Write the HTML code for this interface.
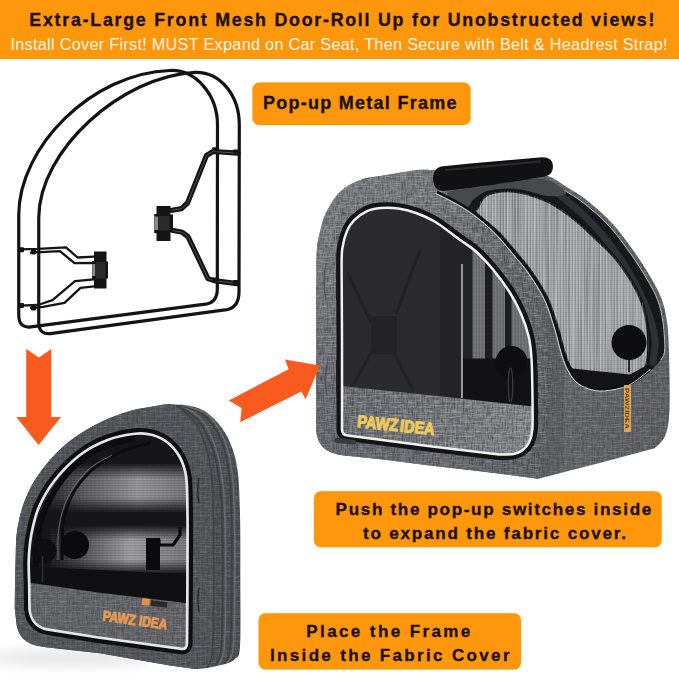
<!DOCTYPE html>
<html>
<head>
<meta charset="utf-8">
<title>Pop-up Metal Frame</title>
<style>
html,body{margin:0;padding:0;background:#fff;}
body{width:679px;height:679px;overflow:hidden;position:relative;font-family:"Liberation Sans",sans-serif;}
svg{position:absolute;left:0;top:0;display:block;}
text{font-family:"Liberation Sans",sans-serif;}
</style>
</head>
<body>
<svg width="679" height="679" viewBox="0 0 679 679">
<defs>
  <pattern id="fabTex" width="5" height="5" patternUnits="userSpaceOnUse">
    <rect x="0" y="0" width="1" height="5" fill="#fff" opacity=".10"/>
    <rect x="2" y="0" width="1" height="5" fill="#000" opacity=".10"/>
    <rect x="0" y="1" width="5" height="1" fill="#fff" opacity=".09"/>
    <rect x="0" y="3" width="5" height="1" fill="#000" opacity=".10"/>
    <rect x="3" y="2" width="2" height="2" fill="#000" opacity=".08"/>
  </pattern>
  <pattern id="vlines" width="3" height="4" patternUnits="userSpaceOnUse">
    <rect x="0" y="0" width="1.2" height="4" fill="#fff" opacity=".16"/>
    <rect x="1.8" y="0" width="1" height="4" fill="#000" opacity=".13"/>
    <rect x="0" y="0" width="3" height="1" fill="#000" opacity=".06"/>
  </pattern>
  <linearGradient id="fabFront" x1="316" y1="0" x2="552" y2="0" gradientUnits="userSpaceOnUse">
    <stop offset="0" stop-color="#7f8084"/><stop offset=".5" stop-color="#797a7e"/><stop offset=".8" stop-color="#6d6e73"/><stop offset="1" stop-color="#65666a"/>
  </linearGradient>
  <linearGradient id="fabSide" x1="540" y1="0" x2="670" y2="0" gradientUnits="userSpaceOnUse">
    <stop offset="0" stop-color="#66676b"/><stop offset="1" stop-color="#5e5f63"/>
  </linearGradient>
  <filter id="noise" x="0" y="0" width="100%" height="100%" color-interpolation-filters="sRGB">
    <feTurbulence type="fractalNoise" baseFrequency="0.9 0.12" numOctaves="2" seed="7" result="v"/>
    <feColorMatrix in="v" type="matrix" values="0 0 0 0 0  0 0 0 0 0  0 0 0 0 0  0 2.4 0 0 -0.95" result="vd"/>
    <feTurbulence type="fractalNoise" baseFrequency="0.12 0.9" numOctaves="2" seed="3" result="hh"/>
    <feColorMatrix in="hh" type="matrix" values="0 0 0 0 1  0 0 0 0 1  0 0 0 0 1  0 2.0 0 0 -0.9" result="hl"/>
    <feMerge><feMergeNode in="vd"/><feMergeNode in="hl"/></feMerge>
  </filter>
  <filter id="blur6" x="-20%" y="-200%" width="140%" height="500%"><feGaussianBlur stdDeviation="6"/></filter>
  <pattern id="hlines" width="4" height="2.5" patternUnits="userSpaceOnUse">
    <rect x="0" y="0" width="4" height="1" fill="#000" opacity=".18"/>
    <rect x="0" y="1.3" width="2" height="1" fill="#fff" opacity=".08"/>
  </pattern>
  <linearGradient id="bandG" x1="40" y1="0" x2="190" y2="0" gradientUnits="userSpaceOnUse">
    <stop offset="0" stop-color="#1c1c1e"/><stop offset=".3" stop-color="#606062"/><stop offset=".65" stop-color="#9a9a9c"/><stop offset="1" stop-color="#77777a"/>
  </linearGradient>
  <linearGradient id="bandG2" x1="55" y1="0" x2="190" y2="0" gradientUnits="userSpaceOnUse">
    <stop offset="0" stop-color="#242426"/><stop offset=".3" stop-color="#6a6a6c"/><stop offset=".55" stop-color="#a2a2a4"/><stop offset="1" stop-color="#7a7a7c"/>
  </linearGradient>
  <linearGradient id="fadeTop" x1="0" y1="455" x2="0" y2="469" gradientUnits="userSpaceOnUse">
    <stop offset="0" stop-color="#161618" stop-opacity="1"/><stop offset="1" stop-color="#161618" stop-opacity="0"/>
  </linearGradient>
  <linearGradient id="fadeBot" x1="0" y1="496" x2="0" y2="508" gradientUnits="userSpaceOnUse">
    <stop offset="0" stop-color="#161618" stop-opacity="0"/><stop offset="1" stop-color="#161618" stop-opacity="1"/>
  </linearGradient>
  <linearGradient id="fadeTop2" x1="0" y1="520" x2="0" y2="532" gradientUnits="userSpaceOnUse">
    <stop offset="0" stop-color="#161618" stop-opacity="1"/><stop offset="1" stop-color="#161618" stop-opacity="0"/>
  </linearGradient>
  <filter id="vnoise" x="0" y="0" width="100%" height="100%" color-interpolation-filters="sRGB">
    <feTurbulence type="fractalNoise" baseFrequency="0.7 0.006" numOctaves="2" seed="5" result="v"/>
    <feColorMatrix in="v" type="matrix" values="0 0 0 0 0  0 0 0 0 0  0 0 0 0 0  0 2.6 0 0 -1.0" result="vd"/>
    <feTurbulence type="fractalNoise" baseFrequency="0.65 0.008" numOctaves="2" seed="9" result="w"/>
    <feColorMatrix in="w" type="matrix" values="0 0 0 0 1  0 0 0 0 1  0 0 0 0 1  0 2.6 0 0 -1.05" result="wl"/>
    <feMerge><feMergeNode in="vd"/><feMergeNode in="wl"/></feMerge>
  </filter>
  <linearGradient id="panelG" x1="345" y1="0" x2="530" y2="0" gradientUnits="userSpaceOnUse">
    <stop offset="0" stop-color="#6b6e74"/><stop offset=".45" stop-color="#76787d"/><stop offset="1" stop-color="#87888c"/>
  </linearGradient>
  <linearGradient id="frontShade" x1="500" y1="250" x2="330" y2="470" gradientUnits="userSpaceOnUse">
    <stop offset="0" stop-color="#1c2230" stop-opacity="0"/><stop offset=".45" stop-color="#1c2230" stop-opacity=".04"/><stop offset="1" stop-color="#1c2230" stop-opacity=".24"/>
  </linearGradient>
</defs>
<!-- BANNER -->
<rect id="banner" x="0" y="0" width="679" height="59" fill="#ff970c"/>
<text id="t1" x="29.3" y="26" font-size="17.8" font-weight="bold" fill="#1c1108" stroke="#1c1108" stroke-width=".35" textLength="625" lengthAdjust="spacing">Extra-Large Front Mesh Door-Roll Up for Unobstructed views!</text>
<text id="t2" x="10.5" y="50.2" font-size="16.3" fill="#fff6e6" textLength="657" lengthAdjust="spacing">Install Cover First! MUST Expand on Car Seat, Then Secure with Belt &amp; Headrest Strap!</text>

<!-- LABELS -->
<g id="labels">
<rect x="252.5" y="82.5" width="218" height="42.5" rx="6.8" stroke="#ffd9a0" stroke-width="0.8" paint-order="stroke" fill="#ff970c"/>
<text x="263" y="109.1" font-size="18" font-weight="bold" fill="#1c1108" stroke="#1c1108" stroke-width=".35" textLength="193.5" lengthAdjust="spacing">Pop-up Metal Frame</text>

<rect x="314" y="491.2" width="347.7" height="56" rx="6.8" stroke="#ffd9a0" stroke-width="0.8" paint-order="stroke" fill="#ff970c"/>
<text x="335.6" y="514.7" font-size="17.1" font-weight="bold" fill="#1c1108" stroke="#1c1108" stroke-width=".35" textLength="315.7" lengthAdjust="spacing">Push the pop-up switches inside</text>
<text x="363" y="538.5" font-size="17.1" font-weight="bold" fill="#1c1108" stroke="#1c1108" stroke-width=".35" textLength="263" lengthAdjust="spacing">to expand the fabric cover.</text>

<rect x="258.6" y="613.3" width="262.4" height="56.1" rx="6.8" stroke="#ffd9a0" stroke-width="0.8" paint-order="stroke" fill="#ff970c"/>
<text x="306.3" y="636.7" font-size="17" font-weight="bold" fill="#1c1108" stroke="#1c1108" stroke-width=".35" textLength="164" lengthAdjust="spacing">Place the Frame</text>
<text x="270" y="660.5" font-size="17" font-weight="bold" fill="#1c1108" stroke="#1c1108" stroke-width=".35" textLength="239.5" lengthAdjust="spacing">Inside the Fabric Cover</text>
</g>

<!--FRAME-->
<g id="frame" fill="none" stroke="#141414" stroke-linecap="round" stroke-linejoin="round">
<path d="M18.75 215 C18.75 147 92 73 170 70.5 C196 69.5 217.5 95 217.5 125 L217.3 289 Q217.3 303.6 203.5 304.4 L31 326.9 Q18.75 328.5 18.75 315 Z" stroke-width="3.2"/>
<path d="M238.00 153.20 L213.00 151.50 L206.50 155.50 L187.50 203.00 L181.50 208.60 L172.00 210.30" stroke-width="5.2"/>
<path d="M238.00 153.20 L213.00 151.50 L206.50 155.50 L187.50 203.00 L181.50 208.60 L172.00 210.30" stroke-width="0.7" stroke="#6a6a6a"/>
<path d="M172.00 230.30 L182.30 232.30 L188.00 236.60 L208.00 278.60 L214.00 280.60 L237.00 283.60" stroke-width="5.2"/>
<path d="M172.00 230.30 L182.30 232.30 L188.00 236.60 L208.00 278.60 L214.00 280.60 L237.00 283.60" stroke-width="0.7" stroke="#6a6a6a"/>
<path d="M20.00 249.30 L38.00 248.80 L66.00 247.40 L77.50 257.50 L94.00 256.60" stroke-width="2.3"/>
<path d="M31.00 252.60 L60.00 251.20 L74.50 263.20 L94.00 263.00" stroke-width="2.3"/>
<path d="M20.00 305.60 L38.00 305.00 L52.50 300.20 L75.00 281.20 L94.00 279.40" stroke-width="2.3"/>
<path d="M31.00 308.00 L43.00 306.80 L64.50 302.80 L80.50 287.80 L94.00 286.40" stroke-width="2.3"/>
<path d="M38.75 218 C38.75 150 122 76 195 72.3 C220 71.5 239.3 95 239.3 125 L239 292 Q239 309.3 223 310.2 L52 333.4 Q38.75 335.5 38.75 322.5 Z" stroke-width="3.2"/>
</g>
<g fill="#141414">
<rect x="19.0" y="247.2" width="5" height="5" rx="1"/>
<rect x="31.0" y="249.6" width="5" height="5" rx="1"/>
<rect x="19.0" y="303.0" width="5" height="5" rx="1"/>
<rect x="31.0" y="305.6" width="5" height="5" rx="1"/>
<rect x="212" y="147.3" width="7" height="4" rx="1"/><rect x="233" y="149.6" width="7" height="4" rx="1"/>
<rect x="212" y="277.6" width="7" height="4" rx="1"/><rect x="233" y="280" width="7" height="4" rx="1"/>
<path d="M156.5 206 h14 v8.5 h2.5 v17 h-2.5 v9.5 h-14 v-8 h-2.3 v-19 h2.3 z"/>
<rect x="154.4" y="216.5" width="3.6" height="13.5" fill="#8a8a8a"/>
<rect x="158.5" y="216" width="11" height="14.5" fill="#2b2b2b"/>
<path d="M94 251.5 h12.5 v10 h1.5 v17 h-1.5 v10 h-12.5 v-9.5 h-2 v-18 h2 z"/>
<rect x="92.2" y="264" width="3" height="12" fill="#8a8a8a"/>
<rect x="96" y="262" width="9.5" height="16.5" fill="#2b2b2b"/>
</g>
<!--/FRAME-->
<!--BIG-->
<g id="bigcarrier">
<path d="M316.20 400.00 C316.20 388.33 316.17 350.83 316.20 330.00 C316.23 309.17 316.27 288.67 316.40 275.00 C316.53 261.33 316.32 255.50 317.00 248.00 C317.68 240.50 319.00 235.83 320.50 230.00 C322.00 224.17 322.75 219.33 326.00 213.00 C329.25 206.67 334.42 197.45 340.00 192.00 C345.58 186.55 352.72 182.97 359.50 180.30 C366.28 177.63 368.62 177.67 380.70 176.00 C392.78 174.33 417.12 172.05 432.00 170.30 C446.88 168.55 457.00 166.38 470.00 165.50 C483.00 164.62 497.00 163.25 510.00 165.00 C523.00 166.75 538.83 172.50 548.00 176.00 C557.17 179.50 558.62 182.03 565.00 186.00 C571.38 189.97 578.37 193.50 586.30 199.80 C594.23 206.10 604.42 214.83 612.60 223.80 C620.78 232.77 629.00 244.57 635.40 253.60 C641.80 262.63 646.63 270.43 651.00 278.00 C655.37 285.57 658.93 291.67 661.60 299.00 C664.27 306.33 665.77 313.03 667.00 322.00 C668.23 330.97 668.60 337.97 669.00 352.80 C669.40 367.63 670.07 397.13 669.40 411.00 C668.73 424.87 667.47 429.78 665.00 436.00 C662.53 442.22 656.33 446.25 654.60 448.30 L601.4 462.6 L538 478.7 L480 471.2 L430 465.4 L380.7 459.2 L347 455.8 C330 454 318 449 316.3 431 Z" fill="url(#fabSide)"/>
<path d="M316.20 400.00 C316.20 388.33 316.17 350.83 316.20 330.00 C316.23 309.17 316.27 288.67 316.40 275.00 C316.53 261.33 316.32 255.50 317.00 248.00 C317.68 240.50 319.00 235.83 320.50 230.00 C322.00 224.17 322.75 219.33 326.00 213.00 C329.25 206.67 334.42 197.45 340.00 192.00 C345.58 186.55 352.72 182.97 359.50 180.30 C366.28 177.63 368.62 177.67 380.70 176.00 C392.78 174.33 420.62 167.30 432.00 170.30 C443.38 173.30 441.88 186.83 449.00 194.00 C456.12 201.17 466.73 206.90 474.70 213.30 C482.67 219.70 489.43 224.95 496.80 232.40 C504.17 239.85 513.53 251.65 518.90 258.00 C524.27 264.35 525.32 265.33 529.00 270.50 C532.68 275.67 538.05 284.08 541.00 289.00 C543.95 293.92 545.03 296.33 546.70 300.00 C548.37 303.67 549.78 306.00 551.00 311.00 C552.22 316.00 553.67 321.83 554.00 330.00 C554.33 338.17 553.67 348.33 553.00 360.00 C552.33 371.67 551.17 386.67 550.00 400.00 C548.83 413.33 546.67 433.33 546.00 440.00 L538 478.7 L480 471.2 L430 465.4 L380.7 459.2 L347 455.8 C330 454 318 449 316.3 431 Z" fill="url(#fabFront)"/>
<path d="M316.20 400.00 C316.20 388.33 316.17 350.83 316.20 330.00 C316.23 309.17 316.27 288.67 316.40 275.00 C316.53 261.33 316.32 255.50 317.00 248.00 C317.68 240.50 319.00 235.83 320.50 230.00 C322.00 224.17 322.75 219.33 326.00 213.00 C329.25 206.67 334.42 197.45 340.00 192.00 C345.58 186.55 352.72 182.97 359.50 180.30 C366.28 177.63 368.62 177.67 380.70 176.00 C392.78 174.33 417.12 172.05 432.00 170.30 C446.88 168.55 457.00 166.38 470.00 165.50 C483.00 164.62 497.00 163.25 510.00 165.00 C523.00 166.75 538.83 172.50 548.00 176.00 C557.17 179.50 558.62 182.03 565.00 186.00 C571.38 189.97 578.37 193.50 586.30 199.80 C594.23 206.10 604.42 214.83 612.60 223.80 C620.78 232.77 629.00 244.57 635.40 253.60 C641.80 262.63 646.63 270.43 651.00 278.00 C655.37 285.57 658.93 291.67 661.60 299.00 C664.27 306.33 665.77 313.03 667.00 322.00 C668.23 330.97 668.60 337.97 669.00 352.80 C669.40 367.63 670.07 397.13 669.40 411.00 C668.73 424.87 667.47 429.78 665.00 436.00 C662.53 442.22 656.33 446.25 654.60 448.30 L601.4 462.6 L538 478.7 L480 471.2 L430 465.4 L380.7 459.2 L347 455.8 C330 454 318 449 316.3 431 Z" fill="url(#fabTex)" opacity=".4"/>
<clipPath id="clipSil"><path d="M316.20 400.00 C316.20 388.33 316.17 350.83 316.20 330.00 C316.23 309.17 316.27 288.67 316.40 275.00 C316.53 261.33 316.32 255.50 317.00 248.00 C317.68 240.50 319.00 235.83 320.50 230.00 C322.00 224.17 322.75 219.33 326.00 213.00 C329.25 206.67 334.42 197.45 340.00 192.00 C345.58 186.55 352.72 182.97 359.50 180.30 C366.28 177.63 368.62 177.67 380.70 176.00 C392.78 174.33 417.12 172.05 432.00 170.30 C446.88 168.55 457.00 166.38 470.00 165.50 C483.00 164.62 497.00 163.25 510.00 165.00 C523.00 166.75 538.83 172.50 548.00 176.00 C557.17 179.50 558.62 182.03 565.00 186.00 C571.38 189.97 578.37 193.50 586.30 199.80 C594.23 206.10 604.42 214.83 612.60 223.80 C620.78 232.77 629.00 244.57 635.40 253.60 C641.80 262.63 646.63 270.43 651.00 278.00 C655.37 285.57 658.93 291.67 661.60 299.00 C664.27 306.33 665.77 313.03 667.00 322.00 C668.23 330.97 668.60 337.97 669.00 352.80 C669.40 367.63 670.07 397.13 669.40 411.00 C668.73 424.87 667.47 429.78 665.00 436.00 C662.53 442.22 656.33 446.25 654.60 448.30 L601.4 462.6 L538 478.7 L480 471.2 L430 465.4 L380.7 459.2 L347 455.8 C330 454 318 449 316.3 431 Z"/></clipPath>
<clipPath id="clipFrontFace"><path d="M316.20 400.00 C316.20 388.33 316.17 350.83 316.20 330.00 C316.23 309.17 316.27 288.67 316.40 275.00 C316.53 261.33 316.32 255.50 317.00 248.00 C317.68 240.50 319.00 235.83 320.50 230.00 C322.00 224.17 322.75 219.33 326.00 213.00 C329.25 206.67 334.42 197.45 340.00 192.00 C345.58 186.55 352.72 182.97 359.50 180.30 C366.28 177.63 368.62 177.67 380.70 176.00 C392.78 174.33 420.62 167.30 432.00 170.30 C443.38 173.30 441.88 186.83 449.00 194.00 C456.12 201.17 466.73 206.90 474.70 213.30 C482.67 219.70 489.43 224.95 496.80 232.40 C504.17 239.85 513.53 251.65 518.90 258.00 C524.27 264.35 525.32 265.33 529.00 270.50 C532.68 275.67 538.05 284.08 541.00 289.00 C543.95 293.92 545.03 296.33 546.70 300.00 C548.37 303.67 549.78 306.00 551.00 311.00 C552.22 316.00 553.67 321.83 554.00 330.00 C554.33 338.17 553.67 348.33 553.00 360.00 C552.33 371.67 551.17 386.67 550.00 400.00 C548.83 413.33 546.67 433.33 546.00 440.00 L538 478.7 L480 471.2 L430 465.4 L380.7 459.2 L347 455.8 C330 454 318 449 316.3 431 Z"/></clipPath>
<g clip-path="url(#clipSil)"><rect x="310" y="150" width="365" height="335" filter="url(#noise)" opacity=".2"/></g>
<g clip-path="url(#clipFrontFace)"><rect x="310" y="150" width="250" height="335" filter="url(#noise)" opacity=".14"/></g>
<path d="M316.20 400.00 C316.20 388.33 316.17 350.83 316.20 330.00 C316.23 309.17 316.27 288.67 316.40 275.00 C316.53 261.33 316.32 255.50 317.00 248.00 C317.68 240.50 319.00 235.83 320.50 230.00 C322.00 224.17 322.75 219.33 326.00 213.00 C329.25 206.67 334.42 197.45 340.00 192.00 C345.58 186.55 352.72 182.97 359.50 180.30 C366.28 177.63 368.62 177.67 380.70 176.00 C392.78 174.33 420.62 167.30 432.00 170.30 C443.38 173.30 441.88 186.83 449.00 194.00 C456.12 201.17 466.73 206.90 474.70 213.30 C482.67 219.70 489.43 224.95 496.80 232.40 C504.17 239.85 513.53 251.65 518.90 258.00 C524.27 264.35 525.32 265.33 529.00 270.50 C532.68 275.67 538.05 284.08 541.00 289.00 C543.95 293.92 545.03 296.33 546.70 300.00 C548.37 303.67 549.78 306.00 551.00 311.00 C552.22 316.00 553.67 321.83 554.00 330.00 C554.33 338.17 553.67 348.33 553.00 360.00 C552.33 371.67 551.17 386.67 550.00 400.00 C548.83 413.33 546.67 433.33 546.00 440.00 L538 478.7 L480 471.2 L430 465.4 L380.7 459.2 L347 455.8 C330 454 318 449 316.3 431 Z" fill="url(#frontShade)"/>
<path d="M540 296 C550 330 552 420 538 479 L560 473 C566 420 566 360 556 330 Z" fill="#3c3e42" opacity=".18"/>
<path d="M462.00 204.00 C462.55 199.95 470.83 192.83 478.00 189.00 C485.17 185.17 494.00 182.58 505.00 181.00 C516.00 179.42 534.50 178.17 544.00 179.50 C553.50 180.83 555.42 185.08 562.00 189.00 C568.58 192.92 575.57 196.73 583.50 203.00 C591.43 209.27 601.52 217.80 609.60 226.60 C617.68 235.40 625.72 246.93 632.00 255.80 C638.28 264.67 643.02 272.40 647.30 279.80 C651.58 287.20 655.08 293.08 657.70 300.20 C660.32 307.32 661.83 314.20 663.00 322.50 C664.17 330.80 666.03 342.68 664.70 350.00 C663.37 357.32 660.45 360.90 655.00 366.40 C649.55 371.90 639.90 378.98 632.00 383.00 C624.10 387.02 614.77 389.58 607.60 390.50 C600.43 391.42 594.27 390.25 589.00 388.50 C583.73 386.75 579.43 383.58 576.00 380.00 C572.57 376.42 570.65 371.83 568.40 367.00 C566.15 362.17 564.32 356.83 562.50 351.00 C560.68 345.17 559.42 338.67 557.50 332.00 C555.58 325.33 552.80 316.33 551.00 311.00 C549.20 305.67 548.37 303.67 546.70 300.00 C545.03 296.33 543.95 293.92 541.00 289.00 C538.05 284.08 532.68 275.67 529.00 270.50 C525.32 265.33 524.27 264.35 518.90 258.00 C513.53 251.65 504.17 239.85 496.80 232.40 C489.43 224.95 480.50 218.03 474.70 213.30 C468.90 208.57 461.45 208.05 462.00 204.00 Z" fill="#17181a"/>
<path d="M546.00 180.00 C548.67 181.50 555.75 185.17 562.00 189.00 C568.25 192.83 575.57 196.73 583.50 203.00 C591.43 209.27 601.52 217.80 609.60 226.60 C617.68 235.40 625.72 246.93 632.00 255.80 C638.28 264.67 643.02 272.40 647.30 279.80 C651.58 287.20 655.08 293.08 657.70 300.20 C660.32 307.32 661.83 314.20 663.00 322.50 C664.17 330.80 665.03 343.75 664.70 350.00 C664.37 356.25 661.62 358.33 661.00 360.00" fill="none" stroke="#c9cacc" stroke-width="0.9"/>
<path d="M500.00 186.00 C507.50 186.33 533.00 184.83 545.00 188.00 C557.00 191.17 563.17 198.00 572.00 205.00 C580.83 212.00 590.00 221.17 598.00 230.00 C606.00 238.83 613.50 248.50 620.00 258.00 C626.50 267.50 632.17 277.50 637.00 287.00 C641.83 296.50 646.00 306.17 649.00 315.00 C652.00 323.83 654.33 332.17 655.00 340.00 C655.67 347.83 653.33 358.33 653.00 362.00" fill="none" stroke="#2f3033" stroke-width="7" stroke-linecap="round"/>
<path d="M447.00 193.00 C448.50 189.75 464.83 189.25 475.00 187.50 C485.17 185.75 498.00 183.92 508.00 182.50 C518.00 181.08 527.67 179.08 535.00 179.00 C542.33 178.92 546.83 179.67 552.00 182.00 C557.17 184.33 566.67 190.67 566.00 193.00 C565.33 195.33 556.33 196.75 548.00 196.00 C539.67 195.25 525.83 189.42 516.00 188.50 C506.17 187.58 496.00 188.75 489.00 190.50 C482.00 192.25 477.83 196.25 474.00 199.00 C470.17 201.75 470.50 208.00 466.00 207.00 C461.50 206.00 445.50 196.25 447.00 193.00 Z" fill="#48494c"/>
<path d="M477.00 208.50 C478.93 205.37 481.17 197.38 487.50 194.50 C493.83 191.62 505.42 190.33 515.00 191.25 C524.58 192.17 537.50 197.12 545.00 200.00 C552.50 202.88 554.58 204.92 560.00 208.50 C565.42 212.08 571.67 216.62 577.50 221.50 C583.33 226.38 588.83 231.88 595.00 237.80 C601.17 243.72 608.50 249.97 614.50 257.00 C620.50 264.03 626.65 273.00 631.00 280.00 C635.35 287.00 638.18 293.17 640.60 299.00 C643.02 304.83 644.18 308.77 645.50 315.00 C646.82 321.23 648.17 328.73 648.50 336.40 C648.83 344.07 648.92 354.23 647.50 361.00 C646.08 367.77 644.58 373.00 640.00 377.00 C635.42 381.00 626.67 383.33 620.00 385.00 C613.33 386.67 605.50 387.17 600.00 387.00 C594.50 386.83 590.83 385.83 587.00 384.00 C583.17 382.17 579.90 378.83 577.00 376.00 C574.10 373.17 571.82 371.17 569.60 367.00 C567.38 362.83 565.52 356.83 563.70 351.00 C561.88 345.17 560.62 338.67 558.70 332.00 C556.78 325.33 554.00 316.33 552.20 311.00 C550.40 305.67 549.57 303.67 547.90 300.00 C546.23 296.33 545.15 293.92 542.20 289.00 C539.25 284.08 533.88 275.67 530.20 270.50 C526.52 265.33 525.47 264.35 520.10 258.00 C514.73 251.65 505.37 239.85 498.00 232.40 C490.63 224.95 479.40 217.28 475.90 213.30 C472.40 209.32 475.07 211.63 477.00 208.50 Z" fill="#a4a5a8" stroke="#131315" stroke-width="3"/>
<path d="M477.00 208.50 C478.93 205.37 481.17 197.38 487.50 194.50 C493.83 191.62 505.42 190.33 515.00 191.25 C524.58 192.17 537.50 197.12 545.00 200.00 C552.50 202.88 554.58 204.92 560.00 208.50 C565.42 212.08 571.67 216.62 577.50 221.50 C583.33 226.38 588.83 231.88 595.00 237.80 C601.17 243.72 608.50 249.97 614.50 257.00 C620.50 264.03 626.65 273.00 631.00 280.00 C635.35 287.00 638.18 293.17 640.60 299.00 C643.02 304.83 644.18 308.77 645.50 315.00 C646.82 321.23 648.17 328.73 648.50 336.40 C648.83 344.07 648.92 354.23 647.50 361.00 C646.08 367.77 644.58 373.00 640.00 377.00 C635.42 381.00 626.67 383.33 620.00 385.00 C613.33 386.67 605.50 387.17 600.00 387.00 C594.50 386.83 590.83 385.83 587.00 384.00 C583.17 382.17 579.90 378.83 577.00 376.00 C574.10 373.17 571.82 371.17 569.60 367.00 C567.38 362.83 565.52 356.83 563.70 351.00 C561.88 345.17 560.62 338.67 558.70 332.00 C556.78 325.33 554.00 316.33 552.20 311.00 C550.40 305.67 549.57 303.67 547.90 300.00 C546.23 296.33 545.15 293.92 542.20 289.00 C539.25 284.08 533.88 275.67 530.20 270.50 C526.52 265.33 525.47 264.35 520.10 258.00 C514.73 251.65 505.37 239.85 498.00 232.40 C490.63 224.95 479.40 217.28 475.90 213.30 C472.40 209.32 475.07 211.63 477.00 208.50 Z" fill="url(#vlines)"/>
<clipPath id="clipMesh"><path d="M477.00 208.50 C478.93 205.37 481.17 197.38 487.50 194.50 C493.83 191.62 505.42 190.33 515.00 191.25 C524.58 192.17 537.50 197.12 545.00 200.00 C552.50 202.88 554.58 204.92 560.00 208.50 C565.42 212.08 571.67 216.62 577.50 221.50 C583.33 226.38 588.83 231.88 595.00 237.80 C601.17 243.72 608.50 249.97 614.50 257.00 C620.50 264.03 626.65 273.00 631.00 280.00 C635.35 287.00 638.18 293.17 640.60 299.00 C643.02 304.83 644.18 308.77 645.50 315.00 C646.82 321.23 648.17 328.73 648.50 336.40 C648.83 344.07 648.92 354.23 647.50 361.00 C646.08 367.77 644.58 373.00 640.00 377.00 C635.42 381.00 626.67 383.33 620.00 385.00 C613.33 386.67 605.50 387.17 600.00 387.00 C594.50 386.83 590.83 385.83 587.00 384.00 C583.17 382.17 579.90 378.83 577.00 376.00 C574.10 373.17 571.82 371.17 569.60 367.00 C567.38 362.83 565.52 356.83 563.70 351.00 C561.88 345.17 560.62 338.67 558.70 332.00 C556.78 325.33 554.00 316.33 552.20 311.00 C550.40 305.67 549.57 303.67 547.90 300.00 C546.23 296.33 545.15 293.92 542.20 289.00 C539.25 284.08 533.88 275.67 530.20 270.50 C526.52 265.33 525.47 264.35 520.10 258.00 C514.73 251.65 505.37 239.85 498.00 232.40 C490.63 224.95 479.40 217.28 475.90 213.30 C472.40 209.32 475.07 211.63 477.00 208.50 Z"/></clipPath>
<g clip-path="url(#clipMesh)"><rect x="465" y="185" width="190" height="210" filter="url(#vnoise)" opacity=".2"/></g>
<path d="M564 357 L572 368.5 L630 374.5 L649 364 L648 372 L634 382.5 L607 389 L588 387 L573 376 Z" fill="#141416"/>
<path d="M437.00 192.00 C440.00 193.50 448.72 197.45 455.00 201.00 C461.28 204.55 467.73 208.07 474.70 213.30 C481.67 218.53 489.43 224.95 496.80 232.40 C504.17 239.85 513.53 251.65 518.90 258.00 C524.27 264.35 525.32 265.33 529.00 270.50 C532.68 275.67 538.05 284.08 541.00 289.00 C543.95 293.92 545.03 296.33 546.70 300.00 C548.37 303.67 549.20 305.67 551.00 311.00 C552.80 316.33 555.58 325.33 557.50 332.00 C559.42 338.67 560.68 345.17 562.50 351.00 C564.32 356.83 565.98 362.17 568.40 367.00 C570.82 371.83 573.40 376.58 577.00 380.00 C580.60 383.42 585.17 385.92 590.00 387.50 C594.83 389.08 599.33 390.08 606.00 389.50 C612.67 388.92 622.33 387.58 630.00 384.00 C637.67 380.42 648.33 370.67 652.00 368.00" fill="none" stroke="#101012" stroke-width="2.6"/>
<path d="M437.00 192.00 C440.00 193.50 448.72 197.45 455.00 201.00 C461.28 204.55 467.73 208.07 474.70 213.30 C481.67 218.53 489.43 224.95 496.80 232.40 C504.17 239.85 513.53 251.65 518.90 258.00 C524.27 264.35 525.32 265.33 529.00 270.50 C532.68 275.67 538.05 284.08 541.00 289.00 C543.95 293.92 545.03 296.33 546.70 300.00 C548.37 303.67 549.20 305.67 551.00 311.00 C552.80 316.33 555.58 325.33 557.50 332.00 C559.42 338.67 560.68 345.17 562.50 351.00 C564.32 356.83 565.98 362.17 568.40 367.00 C570.82 371.83 573.40 376.58 577.00 380.00 C580.60 383.42 585.17 385.92 590.00 387.50 C594.83 389.08 599.33 390.08 606.00 389.50 C612.67 388.92 622.33 387.58 630.00 384.00 C637.67 380.42 648.33 370.67 652.00 368.00" fill="none" stroke="#d8d8da" stroke-width="1" transform="translate(-1.6,1.4)"/>
<circle cx="629" cy="342.6" r="17.5" fill="#0d0d0f"/>
<path d="M629 358 V372" stroke="#0d0d0f" stroke-width="1.6"/>
<clipPath id="clipFront"><path d="M342.00 430.00 C342.00 415.00 342.07 367.50 342.00 340.00 C341.93 312.50 341.50 280.50 341.60 265.00 C341.70 249.50 341.68 252.72 342.60 247.00 C343.52 241.28 345.17 235.18 347.10 230.70 C349.03 226.22 350.95 223.33 354.20 220.10 C357.45 216.87 362.18 213.30 366.60 211.30 C371.02 209.30 375.40 208.55 380.70 208.10 C386.00 207.65 392.52 207.78 398.40 208.60 C404.28 209.42 409.90 210.80 416.00 213.00 C422.10 215.20 427.67 217.33 435.00 221.80 C442.33 226.27 453.17 234.85 460.00 239.80 C466.83 244.75 470.50 246.55 476.00 251.50 C481.50 256.45 487.42 262.75 493.00 269.50 C498.58 276.25 504.80 284.55 509.50 292.00 C514.20 299.45 518.02 306.82 521.20 314.20 C524.38 321.58 526.88 328.93 528.60 336.30 C530.32 343.67 530.85 347.78 531.50 358.40 C532.15 369.02 532.37 388.07 532.50 400.00 C532.63 411.93 532.88 422.92 532.30 430.00 C531.72 437.08 530.63 439.13 529.00 442.50 C527.37 445.87 525.07 448.30 522.50 450.20 C519.93 452.10 517.52 453.17 513.60 453.90 C509.68 454.63 501.43 454.48 499.00 454.60 L430 446.3 L347.5 435.6 Q342 434.8 342 429.5 Z"/></clipPath>
<path d="M342.00 430.00 C342.00 415.00 342.07 367.50 342.00 340.00 C341.93 312.50 341.50 280.50 341.60 265.00 C341.70 249.50 341.68 252.72 342.60 247.00 C343.52 241.28 345.17 235.18 347.10 230.70 C349.03 226.22 350.95 223.33 354.20 220.10 C357.45 216.87 362.18 213.30 366.60 211.30 C371.02 209.30 375.40 208.55 380.70 208.10 C386.00 207.65 392.52 207.78 398.40 208.60 C404.28 209.42 409.90 210.80 416.00 213.00 C422.10 215.20 427.67 217.33 435.00 221.80 C442.33 226.27 453.17 234.85 460.00 239.80 C466.83 244.75 470.50 246.55 476.00 251.50 C481.50 256.45 487.42 262.75 493.00 269.50 C498.58 276.25 504.80 284.55 509.50 292.00 C514.20 299.45 518.02 306.82 521.20 314.20 C524.38 321.58 526.88 328.93 528.60 336.30 C530.32 343.67 530.85 347.78 531.50 358.40 C532.15 369.02 532.37 388.07 532.50 400.00 C532.63 411.93 532.88 422.92 532.30 430.00 C531.72 437.08 530.63 439.13 529.00 442.50 C527.37 445.87 525.07 448.30 522.50 450.20 C519.93 452.10 517.52 453.17 513.60 453.90 C509.68 454.63 501.43 454.48 499.00 454.60 L430 446.3 L347.5 435.6 Q342 434.8 342 429.5 Z" fill="none" stroke="#141416" stroke-width="11" stroke-linejoin="round"/>
<g clip-path="url(#clipFront)">
<rect x="335" y="200" width="205" height="260" fill="#2b2b2e"/>
<rect x="463" y="230" width="75" height="130" fill="#6c6d70"/>
<rect x="463" y="230" width="75" height="130" fill="url(#vlines)" opacity=".5"/>
<rect x="463" y="230" width="9.5" height="130" fill="#232325"/>
<rect x="485" y="230" width="7.5" height="130" fill="#1d1d1f"/>
<rect x="505" y="230" width="6.5" height="130" fill="#1d1d1f"/>
<rect x="463" y="358.5" width="80" height="48" fill="#121214"/>
<path d="M420 250 L396 314 M347.5 272.6 L371 322 M374 348 L352.5 386 M392.6 350 L413 391" fill="none" stroke="#222224" stroke-width="3.2"/>
<rect x="371" y="316" width="26" height="38" rx="3" fill="#232325"/>
<rect x="440" y="220" width="23" height="180" fill="#1f1f21" opacity=".6"/>
<path d="M462 264 V398" stroke="#a6a6a8" stroke-width="1.8"/>
<circle cx="511.5" cy="362" r="16" fill="#0e0e10"/>
<ellipse cx="510.5" cy="385" rx="2.2" ry="17" fill="none" stroke="#3d3d40" stroke-width="1.2"/>
<path d="M335 385.3 L440 396.3 L540 407.2 L540 470 L335 470 Z" fill="url(#panelG)"/>
<path d="M335 385.3 L440 396.3 L540 407.2 L540 470 L335 470 Z" fill="url(#fabTex)" opacity=".55"/>
<clipPath id="clipPanel"><path d="M335 385.3 L440 396.3 L540 407.2 L540 470 L335 470 Z"/></clipPath>
<g clip-path="url(#clipPanel)"><rect x="335" y="380" width="205" height="90" filter="url(#noise)" opacity=".34"/></g>
</g>
<path d="M342.00 430.00 C342.00 415.00 342.07 367.50 342.00 340.00 C341.93 312.50 341.50 280.50 341.60 265.00 C341.70 249.50 341.68 252.72 342.60 247.00 C343.52 241.28 345.17 235.18 347.10 230.70 C349.03 226.22 350.95 223.33 354.20 220.10 C357.45 216.87 362.18 213.30 366.60 211.30 C371.02 209.30 375.40 208.55 380.70 208.10 C386.00 207.65 392.52 207.78 398.40 208.60 C404.28 209.42 409.90 210.80 416.00 213.00 C422.10 215.20 427.67 217.33 435.00 221.80 C442.33 226.27 453.17 234.85 460.00 239.80 C466.83 244.75 470.50 246.55 476.00 251.50 C481.50 256.45 487.42 262.75 493.00 269.50 C498.58 276.25 504.80 284.55 509.50 292.00 C514.20 299.45 518.02 306.82 521.20 314.20 C524.38 321.58 526.88 328.93 528.60 336.30 C530.32 343.67 530.85 347.78 531.50 358.40 C532.15 369.02 532.37 388.07 532.50 400.00 C532.63 411.93 532.88 422.92 532.30 430.00 C531.72 437.08 530.63 439.13 529.00 442.50 C527.37 445.87 525.07 448.30 522.50 450.20 C519.93 452.10 517.52 453.17 513.60 453.90 C509.68 454.63 501.43 454.48 499.00 454.60 L430 446.3 L347.5 435.6 Q342 434.8 342 429.5 Z" fill="none" stroke="#f1f1f2" stroke-width="2.5" stroke-linejoin="round"/>
<rect x="334.5" y="437.6" width="22" height="5" rx="2.5" fill="#3a3b3f" transform="rotate(6 334.5 437.6)"/>
<text x="356.8" y="427" font-size="17.2" font-weight="bold" fill="#ecc85e" stroke="#ecc85e" stroke-width="1.1" textLength="77.6" lengthAdjust="spacingAndGlyphs" transform="rotate(6 356.8 427)" word-spacing="-2.5">PAWZ IDEA</text>
<path d="M326 263 Q322.5 282 326 300" fill="none" stroke="#4d4f54" stroke-width="1.3"/>
<path d="M327 365 Q323.5 380 327 395" fill="none" stroke="#4d4f54" stroke-width="1.3"/>
<path d="M337 262 V300 M337 360 V392" stroke="#1b1b1d" stroke-width="2"/>
<path d="M441 166.5 L470 163.5 L542 157.3 Q553 157.5 553 166 Q553 175 545 176.5 L470 188 L443 191 Q433 190 433 179 Q433 168.5 441 166.5 Z" fill="#111113"/>
<path d="M446 170 L540 161.5" stroke="#2c2c2f" stroke-width="2" stroke-linecap="round"/>
<rect x="624" y="385" width="7" height="47" fill="#dba458"/>
<text x="0" y="0" font-size="5.6" font-weight="bold" fill="#5a3a12" transform="translate(625.4 388) rotate(90)" textLength="41" lengthAdjust="spacingAndGlyphs">PAWZIDEA</text>
</g>
<!--/BIG-->
<!--SMALL-->
<g id="smallcarrier">
<ellipse cx="70" cy="658" rx="85" ry="9" fill="#000" opacity=".09" filter="url(#blur6)"/>
<path d="M14.80 609.00 C14.83 605.00 14.87 593.17 15.00 585.00 C15.13 576.83 15.23 569.17 15.60 560.00 C15.97 550.83 15.63 540.00 17.20 530.00 C18.77 520.00 21.20 509.58 25.00 500.00 C28.80 490.42 33.33 481.67 40.00 472.50 C46.67 463.33 55.83 452.92 65.00 445.00 C74.17 437.08 85.00 430.42 95.00 425.00 C105.00 419.58 115.83 415.50 125.00 412.50 C134.17 409.50 141.67 408.33 150.00 407.00 C158.33 405.67 166.67 404.21 175.00 404.50 C183.33 404.79 192.92 405.75 200.00 408.75 C207.08 411.75 212.50 416.88 217.50 422.50 C222.50 428.12 226.67 434.58 230.00 442.50 C233.33 450.42 235.83 457.92 237.50 470.00 C239.17 482.08 239.53 496.67 240.00 515.00 C240.47 533.33 240.30 558.08 240.30 580.00 C240.30 601.92 240.88 633.33 240.00 646.50 C239.12 659.67 237.50 656.08 235.00 659.00 C232.50 661.92 229.58 662.54 225.00 664.00 C220.42 665.46 212.50 666.92 207.50 667.75 C202.50 668.58 197.08 668.79 195.00 669.00 L170 665.5 L100 653.2 L46 647.2 C30 645.5 19.5 640 16.8 626 Z" fill="#4d4f54"/>
<path d="M14.80 609.00 C14.83 605.00 14.87 593.17 15.00 585.00 C15.13 576.83 15.23 569.17 15.60 560.00 C15.97 550.83 15.63 540.00 17.20 530.00 C18.77 520.00 21.20 509.58 25.00 500.00 C28.80 490.42 33.33 481.67 40.00 472.50 C46.67 463.33 55.83 452.92 65.00 445.00 C74.17 437.08 85.00 430.42 95.00 425.00 C105.00 419.58 115.83 415.50 125.00 412.50 C134.17 409.50 141.67 408.25 150.00 407.00 C158.33 405.75 167.50 402.42 175.00 405.00 C182.50 407.58 189.58 414.58 195.00 422.50 C200.42 430.42 204.58 441.25 207.50 452.50 C210.42 463.75 211.46 472.08 212.50 490.00 C213.54 507.92 213.58 538.33 213.75 560.00 C213.92 581.67 213.79 604.17 213.50 620.00 C213.21 635.83 213.00 647.04 212.00 655.00 C211.00 662.96 208.25 665.62 207.50 667.75 L195 669 L170 665.5 L100 653.2 L46 647.2 C30 645.5 19.5 640 16.8 626 Z" fill="#525459"/>
<clipPath id="clipS"><path d="M14.80 609.00 C14.83 605.00 14.87 593.17 15.00 585.00 C15.13 576.83 15.23 569.17 15.60 560.00 C15.97 550.83 15.63 540.00 17.20 530.00 C18.77 520.00 21.20 509.58 25.00 500.00 C28.80 490.42 33.33 481.67 40.00 472.50 C46.67 463.33 55.83 452.92 65.00 445.00 C74.17 437.08 85.00 430.42 95.00 425.00 C105.00 419.58 115.83 415.50 125.00 412.50 C134.17 409.50 141.67 408.33 150.00 407.00 C158.33 405.67 166.67 404.21 175.00 404.50 C183.33 404.79 192.92 405.75 200.00 408.75 C207.08 411.75 212.50 416.88 217.50 422.50 C222.50 428.12 226.67 434.58 230.00 442.50 C233.33 450.42 235.83 457.92 237.50 470.00 C239.17 482.08 239.53 496.67 240.00 515.00 C240.47 533.33 240.30 558.08 240.30 580.00 C240.30 601.92 240.88 633.33 240.00 646.50 C239.12 659.67 237.50 656.08 235.00 659.00 C232.50 661.92 229.58 662.54 225.00 664.00 C220.42 665.46 212.50 666.92 207.50 667.75 C202.50 668.58 197.08 668.79 195.00 669.00 L170 665.5 L100 653.2 L46 647.2 C30 645.5 19.5 640 16.8 626 Z"/></clipPath>
<g clip-path="url(#clipS)"><rect x="10" y="400" width="235" height="275" filter="url(#noise)" opacity=".16"/>
<rect x="10" y="400" width="235" height="275" fill="url(#fabTex)" opacity=".35"/>
<path d="M178.00 405.50 C181.33 407.92 192.33 413.08 198.00 420.00 C203.67 426.92 208.42 437.00 212.00 447.00 C215.58 457.00 217.83 467.83 219.50 480.00 C221.17 492.17 221.50 500.00 222.00 520.00 C222.50 540.00 222.67 578.33 222.50 600.00 C222.33 621.67 222.25 638.83 221.00 650.00 C219.75 661.17 216.00 664.17 215.00 667.00" fill="none" stroke="#3d3f43" stroke-width="1.8"/>
<path d="M181.00 405.50 C184.33 407.75 195.33 412.25 201.00 419.00 C206.67 425.75 211.42 435.83 215.00 446.00 C218.58 456.17 220.83 467.67 222.50 480.00 C224.17 492.33 224.50 500.00 225.00 520.00 C225.50 540.00 225.67 578.33 225.50 600.00 C225.33 621.67 225.25 639.00 224.00 650.00 C222.75 661.00 219.00 663.33 218.00 666.00" fill="none" stroke="#74767b" stroke-width="1.6" opacity=".7"/>
<path d="M180.00 405.00 C184.00 406.67 197.17 409.17 204.00 415.00 C210.83 420.83 216.83 430.50 221.00 440.00 C225.17 449.50 227.25 458.67 229.00 472.00 C230.75 485.33 231.08 498.67 231.50 520.00 C231.92 541.33 231.75 578.33 231.50 600.00 C231.25 621.67 231.25 639.33 230.00 650.00 C228.75 660.67 225.00 661.67 224.00 664.00" fill="none" stroke="#3d3f43" stroke-width="1.8"/>
<path d="M183.00 405.00 C187.00 406.58 200.17 408.83 207.00 414.50 C213.83 420.17 219.83 429.42 224.00 439.00 C228.17 448.58 230.25 458.50 232.00 472.00 C233.75 485.50 234.08 498.67 234.50 520.00 C234.92 541.33 234.75 578.33 234.50 600.00 C234.25 621.67 234.25 639.50 233.00 650.00 C231.75 660.50 228.00 660.83 227.00 663.00" fill="none" stroke="#74767b" stroke-width="1.6" opacity=".7"/>
<path d="M176.00 405.50 C179.17 408.33 189.75 414.67 195.00 422.50 C200.25 430.33 204.58 441.25 207.50 452.50 C210.42 463.75 211.46 472.08 212.50 490.00 C213.54 507.92 213.58 538.33 213.75 560.00 C213.92 581.67 213.79 604.17 213.50 620.00 C213.21 635.83 213.00 647.04 212.00 655.00 C211.00 662.96 208.25 665.62 207.50 667.75" fill="none" stroke="#404246" stroke-width="1.5"/>
</g>
<clipPath id="clipSP"><path d="M29.50 609.00 C29.45 605.00 29.32 593.17 29.20 585.00 C29.07 576.83 28.41 568.33 28.75 560.00 C29.09 551.67 29.58 543.75 31.25 535.00 C32.92 526.25 34.79 516.67 38.75 507.50 C42.71 498.33 48.12 488.75 55.00 480.00 C61.88 471.25 71.25 461.67 80.00 455.00 C88.75 448.33 98.33 443.54 107.50 440.00 C116.67 436.46 127.50 434.58 135.00 433.75 C142.50 432.92 147.08 433.54 152.50 435.00 C157.92 436.46 162.92 438.75 167.50 442.50 C172.08 446.25 176.88 451.67 180.00 457.50 C183.12 463.33 185.00 467.92 186.25 477.50 C187.50 487.08 187.29 501.25 187.50 515.00 C187.71 528.75 187.53 544.17 187.50 560.00 C187.47 575.83 187.38 596.17 187.30 610.00 C187.22 623.83 187.05 637.50 187.00 643.00 Q187 649.5 181.5 648.8 L100 637.75 L47 629.4 C38 627.5 30.5 621 29.5 609 Z"/></clipPath>
<path d="M29.50 609.00 C29.45 605.00 29.32 593.17 29.20 585.00 C29.07 576.83 28.41 568.33 28.75 560.00 C29.09 551.67 29.58 543.75 31.25 535.00 C32.92 526.25 34.79 516.67 38.75 507.50 C42.71 498.33 48.12 488.75 55.00 480.00 C61.88 471.25 71.25 461.67 80.00 455.00 C88.75 448.33 98.33 443.54 107.50 440.00 C116.67 436.46 127.50 434.58 135.00 433.75 C142.50 432.92 147.08 433.54 152.50 435.00 C157.92 436.46 162.92 438.75 167.50 442.50 C172.08 446.25 176.88 451.67 180.00 457.50 C183.12 463.33 185.00 467.92 186.25 477.50 C187.50 487.08 187.29 501.25 187.50 515.00 C187.71 528.75 187.53 544.17 187.50 560.00 C187.47 575.83 187.38 596.17 187.30 610.00 C187.22 623.83 187.05 637.50 187.00 643.00 Q187 649.5 181.5 648.8 L100 637.75 L47 629.4 C38 627.5 30.5 621 29.5 609 Z" fill="none" stroke="#0f0f11" stroke-width="11" stroke-linejoin="round"/>
<g clip-path="url(#clipSP)">
<rect x="20" y="425" width="175" height="230" fill="#161618"/>
<rect x="40" y="464" width="150" height="48" fill="url(#bandG)"/>
<rect x="40" y="464" width="150" height="48" fill="url(#hlines)"/>
<rect x="50" y="526" width="140" height="47" fill="url(#bandG2)"/>
<rect x="50" y="526" width="140" height="47" fill="url(#hlines)"/>
<linearGradient id="fd4630" x1="0" y1="463.0" x2="0" y2="479.0" gradientUnits="userSpaceOnUse"><stop offset="0" stop-color="#161618" stop-opacity="1"/><stop offset="1" stop-color="#161618" stop-opacity="0"/></linearGradient>
<rect x="30" y="462.5" width="165" height="17.0" fill="url(#fd4630)"/>
<linearGradient id="fd4970" x1="0" y1="497.0" x2="0" y2="513.0" gradientUnits="userSpaceOnUse"><stop offset="0" stop-color="#161618" stop-opacity="0"/><stop offset="1" stop-color="#161618" stop-opacity="1"/></linearGradient>
<rect x="30" y="496.5" width="165" height="17.0" fill="url(#fd4970)"/>
<linearGradient id="fd5250" x1="0" y1="525.0" x2="0" y2="540.0" gradientUnits="userSpaceOnUse"><stop offset="0" stop-color="#161618" stop-opacity="1"/><stop offset="1" stop-color="#161618" stop-opacity="0"/></linearGradient>
<rect x="30" y="524.5" width="165" height="16.0" fill="url(#fd5250)"/>
<linearGradient id="fd5600" x1="0" y1="560.0" x2="0" y2="574.0" gradientUnits="userSpaceOnUse"><stop offset="0" stop-color="#161618" stop-opacity="0"/><stop offset="1" stop-color="#161618" stop-opacity="1"/></linearGradient>
<rect x="30" y="559.5" width="165" height="15.0" fill="url(#fd5600)"/>
<path d="M62.00 560.00 C62.17 554.17 61.33 535.83 63.00 525.00 C64.67 514.17 67.17 504.17 72.00 495.00 C76.83 485.83 84.00 477.17 92.00 470.00 C100.00 462.83 110.33 456.50 120.00 452.00 C129.67 447.50 145.00 444.50 150.00 443.00" fill="none" stroke="#0c0c0e" stroke-width="3"/>
<path d="M36.00 600.00 C36.00 593.33 35.33 572.50 36.00 560.00 C36.67 547.50 37.33 535.83 40.00 525.00 C42.67 514.17 46.67 504.50 52.00 495.00 C57.33 485.50 64.00 475.83 72.00 468.00 C80.00 460.17 89.50 453.00 100.00 448.00 C110.50 443.00 129.17 439.67 135.00 438.00" fill="none" stroke="#0c0c0e" stroke-width="6"/>
<path d="M58.00 560.00 C58.17 554.50 57.33 537.50 59.00 527.00 C60.67 516.50 63.17 506.50 68.00 497.00 C72.83 487.50 80.67 477.00 88.00 470.00 C95.33 463.00 108.00 457.50 112.00 455.00" fill="none" stroke="#6b6b6d" stroke-width="1"/>
<path d="M20 566 L100 570 L190 574 L190 610 L20 590 Z" fill="#101012"/>
<circle cx="75" cy="545" r="14" fill="#0b0b0d"/>
<circle cx="44" cy="551" r="12.5" fill="#0f0f11"/>
<path d="M42.5 556 V582" stroke="#2f2f32" stroke-width="1.6"/>
<path d="M147 540 h12 v5 h14 l7 -10 v-8" fill="none" stroke="#0b0b0d" stroke-width="3.2" stroke-linejoin="round"/>
<rect x="146" y="538" width="14" height="32" fill="#0b0b0d"/>
<path d="M20 581.3 L100 592.75 L190 603.4 L190 660 L20 660 Z" fill="#626468"/>
<clipPath id="clipSPanel"><path d="M20 581.3 L100 592.75 L190 603.4 L190 660 L20 660 Z"/></clipPath>
<g clip-path="url(#clipSPanel)"><rect x="20" y="575" width="175" height="85" filter="url(#noise)" opacity=".2"/><rect x="20" y="575" width="175" height="85" fill="url(#fabTex)" opacity=".35"/></g>
</g>
<path d="M29.50 609.00 C29.45 605.00 29.32 593.17 29.20 585.00 C29.07 576.83 28.41 568.33 28.75 560.00 C29.09 551.67 29.58 543.75 31.25 535.00 C32.92 526.25 34.79 516.67 38.75 507.50 C42.71 498.33 48.12 488.75 55.00 480.00 C61.88 471.25 71.25 461.67 80.00 455.00 C88.75 448.33 98.33 443.54 107.50 440.00 C116.67 436.46 127.50 434.58 135.00 433.75 C142.50 432.92 147.08 433.54 152.50 435.00 C157.92 436.46 162.92 438.75 167.50 442.50 C172.08 446.25 176.88 451.67 180.00 457.50 C183.12 463.33 185.00 467.92 186.25 477.50 C187.50 487.08 187.29 501.25 187.50 515.00 C187.71 528.75 187.53 544.17 187.50 560.00 C187.47 575.83 187.38 596.17 187.30 610.00 C187.22 623.83 187.05 637.50 187.00 643.00 Q187 649.5 181.5 648.8 L100 637.75 L47 629.4 C38 627.5 30.5 621 29.5 609 Z" fill="none" stroke="#e6e6e8" stroke-width="2.7" stroke-linejoin="round"/>
<rect x="142.5" y="598" width="7.5" height="7" fill="#e8913f" transform="rotate(7 142.5 598)"/>
<rect x="151" y="600.3" width="16.5" height="5.5" fill="#2a2a2c" transform="rotate(7 151 600.3)"/>
<text x="102" y="620.5" font-size="14.6" font-weight="bold" fill="#e39a52" stroke="#e39a52" stroke-width=".9" textLength="65" lengthAdjust="spacingAndGlyphs" transform="rotate(8 102 620.5)">PAWZ IDEA</text>
<path d="M199 478 Q196.5 490 199 503 M199 588 Q196.5 598 199 612" fill="none" stroke="#2a2b2e" stroke-width="1.4"/>
</g>
<!--/SMALL-->
<!-- ARROWS -->
<g id="arrows" fill="#fb5a1f">
<path d="M26.2 349.1 L38.9 357.4 L51.3 349.1 L51.3 417 L61 417 L38.5 444.9 L16.3 417 L26.2 417 Z"/>
<path d="M228.8 400.4 L288.6 369.2 L285 359.4 L319.9 365.6 L305.7 399.2 L301.3 391.6 L240.3 422.2 L241.6 408 Z"/>
</g>
</svg>
</body>
</html>
